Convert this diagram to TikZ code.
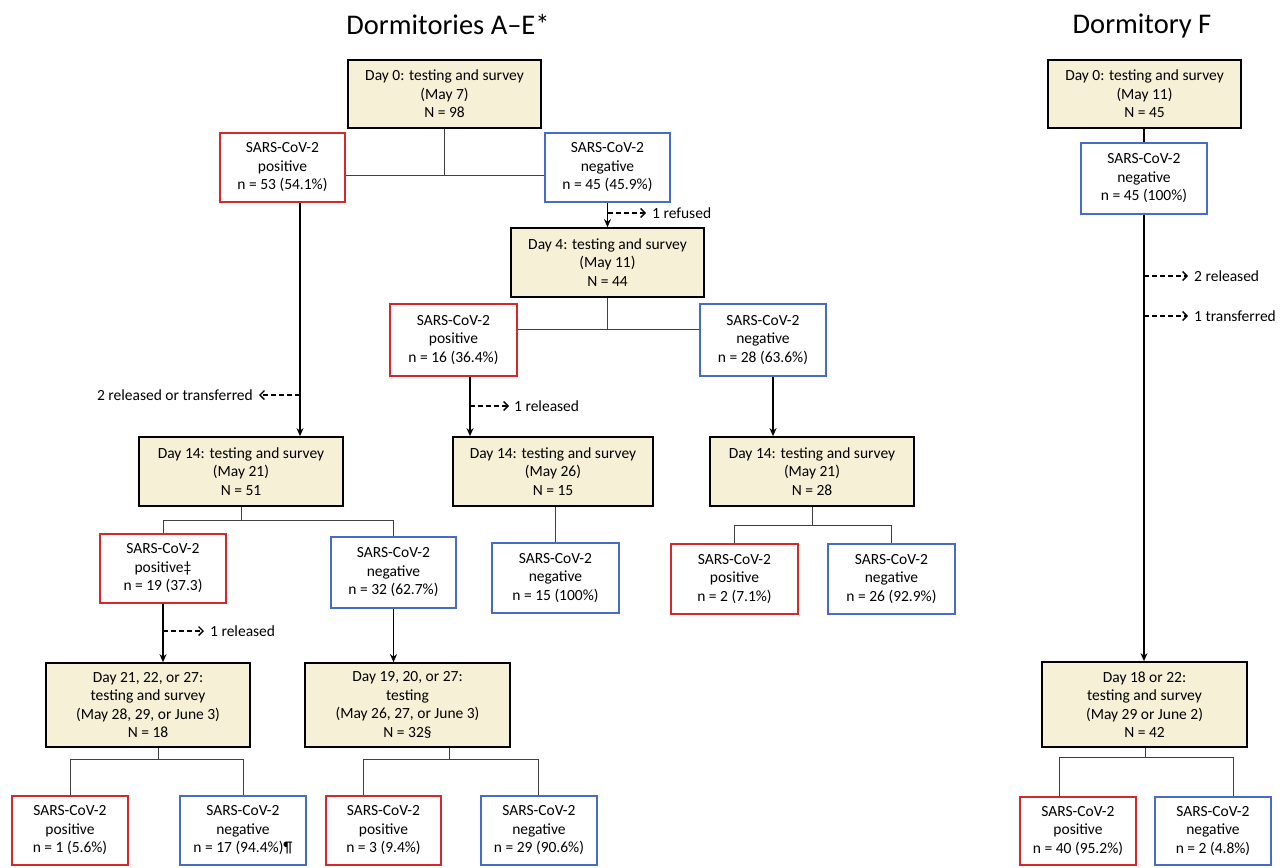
\documentclass[tikz,border=0pt]{standalone}
\usepackage{fontspec}
\setmainfont{Carlito}
\usetikzlibrary{arrows.meta}
\definecolor{dayfill}{RGB}{246,240,214}
\definecolor{posred}{RGB}{214,40,42}
\definecolor{negblue}{RGB}{72,106,200}
\newcommand\boxfont{\fontsize{15.5}{18.5}\selectfont}
\newcommand\titlefont{\fontsize{28.5}{32}\selectfont}
\begin{document}
\begin{tikzpicture}[x=1pt,y=-1pt,
  daybox/.style={draw=black, line width=1.7pt, fill=dayfill, align=center, inner sep=2pt, font=\boxfont},
  posbox/.style={draw=posred, line width=1.7pt, fill=white, align=center, inner sep=2pt, font=\boxfont},
  negbox/.style={draw=negblue, line width=1.7pt, fill=white, align=center, inner sep=2pt, font=\boxfont},
  conn/.style={line width=0.9pt, draw=black!75},
  arr/.style={line width=1.5pt, -{Stealth[length=8pt,width=7pt]}},
  darr/.style={line width=1.4pt, dash pattern=on 5pt off 3pt, -{Straight Barb[length=4.5pt,width=9pt,line width=1.4pt]}},
  lbl/.style={font=\boxfont, inner sep=0pt},
  ttl/.style={font=\titlefont, inner sep=0pt}]
\useasboundingbox[fill=white] (0,0) rectangle (1287,867);

% titles
\node[ttl] (t1) at (448,24) {Dormitories A–E*};
\node[ttl] (t2) at (1142,26) {Dormitory F};

% ---------- Dormitories A-E ----------
\node[daybox, minimum width=193pt, minimum height=68pt] (d0) at (444.5,94) {Day 0: testing and survey\\(May 7)\\N = 98};
\node[posbox, minimum width=125pt, minimum height=69pt] (p1) at (282.5,167.5) {SARS-CoV-2\\positive\\n = 53 (54.1\%)};
\node[negbox, minimum width=125pt, minimum height=69pt] (n1) at (607.5,167.5) {SARS-CoV-2\\negative\\n = 45 (45.9\%)};
\coordinate (j0) at (0,175);
\draw[conn] (d0.south) -- (d0.south |- j0);
\draw[conn] (p1.east |- j0) -- (n1.west |- j0);

\node[daybox, minimum width=193pt, minimum height=69pt] (d4) at (607.5,262.5) {Day 4: testing and survey\\(May 11)\\N = 44};
\draw[arr] (n1.south) -- (d4.north);
\node[lbl, anchor=west] (r1) at (652,213) {1 refused};
\draw[darr] (n1.south |- r1.west) -- ([xshift=-6pt]r1.west);

\node[posbox, minimum width=127pt, minimum height=72pt] (p2) at (453.5,340) {SARS-CoV-2\\positive\\n = 16 (36.4\%)};
\node[negbox, minimum width=126pt, minimum height=72pt] (n2) at (763,340) {SARS-CoV-2\\negative\\n = 28 (63.6\%)};
\coordinate (j1) at (0,329);
\draw[conn] (d4.south) -- (d4.south |- j1);
\draw[conn] (p2.east |- j1) -- (n2.west |- j1);

\node[daybox, minimum width=204pt, minimum height=69pt] (d14a) at (241,471.5) {Day 14: testing and survey\\(May 21)\\N = 51};
\node[daybox, minimum width=200pt, minimum height=69pt] (d14b) at (553,471.5) {Day 14: testing and survey\\(May 26)\\N = 15};
\node[daybox, minimum width=204pt, minimum height=69pt] (d14c) at (812,471.5) {Day 14: testing and survey\\(May 21)\\N = 28};

\coordinate (x1) at (300,0);
\draw[arr] (p1.south -| x1) -- (d14a.north -| x1);
\node[lbl, anchor=east] (rt) at (253,395) {2 released or transferred};
\draw[darr] (x1 |- rt.east) -- ([xshift=6pt]rt.east);

\coordinate (x2) at (470,0);
\draw[arr] (p2.south -| x2) -- (d14b.north -| x2);
\node[lbl, anchor=west] (r2) at (514,406) {1 released};
\draw[darr] (x2 |- r2.west) -- ([xshift=-5pt]r2.west);

\coordinate (x3) at (773,0);
\draw[arr] (n2.south -| x3) -- (d14c.north -| x3);

\node[posbox, minimum width=126pt, minimum height=69pt] (p3) at (163,568.5) {SARS-CoV-2\\positive‡\\n = 19 (37.3)};
\node[negbox, minimum width=125pt, minimum height=71pt] (n3) at (393.5,572.5) {SARS-CoV-2\\negative\\n = 32 (62.7\%)};
\node[negbox, minimum width=127pt, minimum height=70pt] (n4) at (555.5,578) {SARS-CoV-2\\negative\\n = 15 (100\%)};
\node[posbox, minimum width=127pt, minimum height=70pt] (p4) at (734.5,579) {SARS-CoV-2\\positive\\n = 2 (7.1\%)};
\node[negbox, minimum width=127pt, minimum height=70pt] (n4b) at (891.5,579) {SARS-CoV-2\\negative\\n = 26 (92.9\%)};

\coordinate (j2) at (0,520);
\draw[conn] (d14a.south) -- (d14a.south |- j2);
\draw[conn] (p3.north) -- (p3.north |- j2) -- (n3.north |- j2) -- (n3.north);
\draw[conn] (d14b.south -| n4.north) -- (n4.north);
\coordinate (j3) at (0,525);
\draw[conn] (d14c.south) -- (d14c.south |- j3);
\draw[conn] (p4.north) -- (p4.north |- j3) -- (n4b.north |- j3) -- (n4b.north);

\node[daybox, minimum width=204pt, minimum height=84pt] (d21) at (148,705) {Day 21, 22, or 27:\\testing and survey\\(May 28, 29, or June 3)\\N = 18};
\node[daybox, minimum width=205pt, minimum height=84pt] (d19) at (407.5,705) {Day 19, 20, or 27:\\testing\\(May 26, 27, or June 3)\\N = 32§};

\draw[arr] (p3.south) -- (p3.south |- d21.north);
\node[lbl, anchor=west] (r3) at (210,631) {1 released};
\draw[darr] (p3.south |- r3.west) -- ([xshift=-6pt]r3.west);
\draw[arr] (n3.south) -- (n3.south |- d19.north);

\node[posbox, minimum width=116pt, minimum height=69pt] (p5) at (70,830.5) {SARS-CoV-2\\positive\\n = 1 (5.6\%)};
\node[negbox, minimum width=126pt, minimum height=69pt] (n5) at (243,830.5) {SARS-CoV-2\\negative\\n = 17 (94.4\%)¶};
\node[posbox, minimum width=115pt, minimum height=69pt] (p6) at (383.5,830.5) {SARS-CoV-2\\positive\\n = 3 (9.4\%)};
\node[negbox, minimum width=116pt, minimum height=69pt] (n6) at (539,830.5) {SARS-CoV-2\\negative\\n = 29 (90.6\%)};

\coordinate (j4) at (158,759);
\draw[conn] (d21.south -| j4) -- (j4);
\draw[conn] (p5.north) -- (p5.north |- j4) -- (n5.north |- j4) -- (n5.north);
\coordinate (j5) at (449,759);
\coordinate (a6) at (363,759);
\coordinate (b6) at (538,759);
\draw[conn] (d19.south -| j5) -- (j5);
\draw[conn] (a6 |- p6.north) -- (a6) -- (b6) -- (b6 |- n6.north);

% ---------- Dormitory F ----------
\node[daybox, minimum width=193pt, minimum height=68pt] (f0) at (1144.5,94) {Day 0: testing and survey\\(May 11)\\N = 45};
\node[negbox, minimum width=126pt, minimum height=71pt] (fn) at (1144,178.5) {SARS-CoV-2\\negative\\n = 45 (100\%)};
\draw[conn, line width=1.3pt, draw=black] (f0.south -| fn.north) -- (fn.north);

\node[daybox, minimum width=205pt, minimum height=85pt] (fd) at (1144.5,704.5) {Day 18 or 22:\\testing and survey\\(May 29 or June 2)\\N = 42};
\draw[arr] (fn.south) -- (fn.south |- fd.north);
\node[lbl, anchor=west] (fr1) at (1194,276) {2 released};
\draw[darr] (fn.south |- fr1.west) -- ([xshift=-6pt]fr1.west);
\node[lbl, anchor=west] (fr2) at (1194,316) {1 transferred};
\draw[darr] (fn.south |- fr2.west) -- ([xshift=-6pt]fr2.west);

\node[posbox, minimum width=116pt, minimum height=68pt] (fp) at (1078,831) {SARS-CoV-2\\positive\\n = 40 (95.2\%)};
\node[negbox, minimum width=116pt, minimum height=68pt] (fn2) at (1213,831) {SARS-CoV-2\\negative\\n = 2 (4.8\%)};
\coordinate (j6) at (1145,757);
\coordinate (a7) at (1059,757);
\coordinate (b7) at (1233,757);
\draw[conn] (fd.south -| j6) -- (j6);
\draw[conn] (a7 |- fp.north) -- (a7) -- (b7) -- (b7 |- fn2.north);
\end{tikzpicture}
\end{document}
